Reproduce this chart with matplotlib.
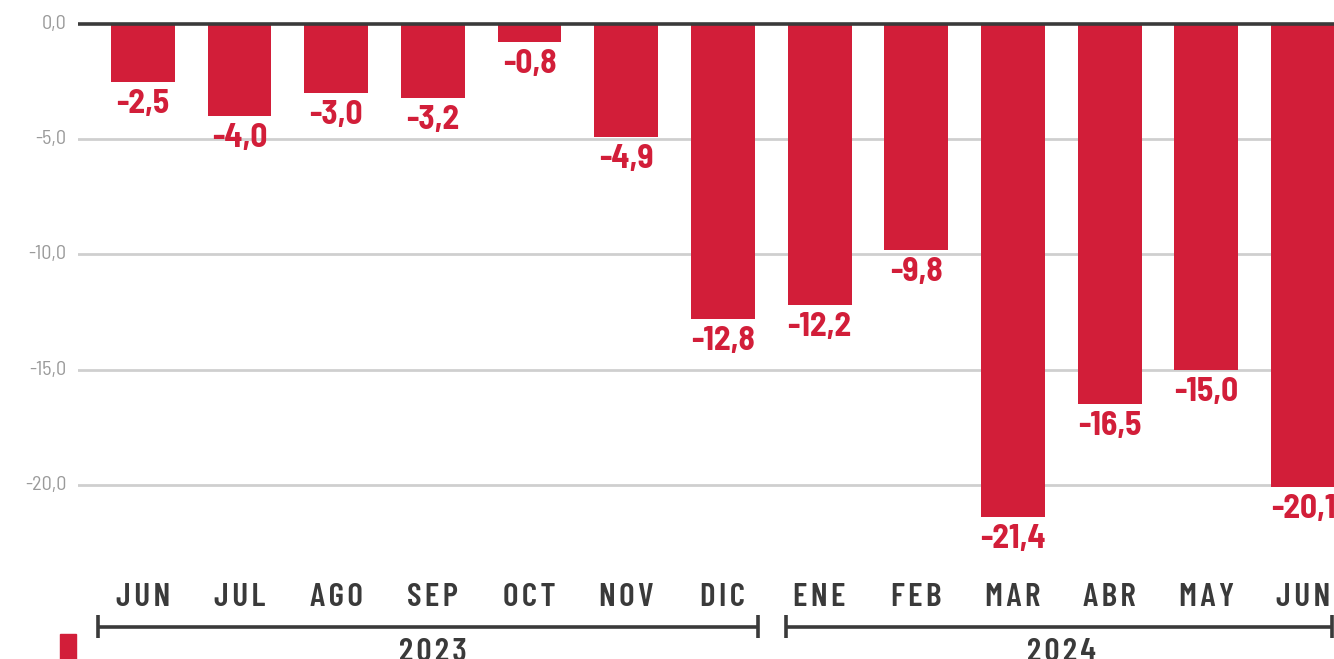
import numpy as np
import matplotlib.pyplot as plt
from matplotlib.patches import Rectangle

# Data
months = ['JUN', 'JUL', 'AGO', 'SEP', 'OCT', 'NOV', 'DIC',
          'ENE', 'FEB', 'MAR', 'ABR', 'MAY', 'JUN']
values = [-2.5, -4.0, -3.0, -3.2, -0.8, -4.9, -12.8,
          -12.2, -9.8, -21.4, -16.5, -15.0, -20.1]
years = ['2023', '2024']
year_spans = [(0, 6), (7, 12)]
yticks = [0, -5, -10, -15, -20]

RED = '#d21e39'
DARK = '#3a3a3a'
GRID = '#cfcfcf'
COND = ['Barlow Condensed', 'DejaVu Sans']
SEMI = ['Barlow Semi Condensed', 'DejaVu Sans']
HAIR = '\u200a'

fig = plt.figure(figsize=(13.34, 6.59), dpi=100)
ax = fig.add_axes([0.0585, 0, 0.9415, 1])

x = np.arange(len(values))
ax.bar(x, values, width=0.66, color=RED, zorder=3)

ax.set_xlim(-0.67, 12.32)
ax.set_ylim(-27.55, 1.04)

# grid and zero line
for t in yticks[1:]:
    ax.axhline(t, color=GRID, lw=2, zorder=1)
ax.axhline(0, color=DARK, lw=2.6, zorder=4)

for s in ax.spines.values():
    s.set_visible(False)
ax.set_xticks([])
ax.set_yticks([])

# y labels
for t in yticks:
    ax.text(-0.79, t, f'{t:.1f}'.replace('.', ','),
            ha='right', va='center', fontsize=14.5, color='#9a9a9a',
            family=SEMI)

# value labels
for xi, v in zip(x, values):
    ax.text(xi, v - 0.3, f'{v:.1f}'.replace('.', ','), ha='center', va='top',
            fontsize=24, fontweight='bold', color=RED, family=SEMI,
            zorder=5)

# month labels
for xi, m in zip(x, months):
    ax.text(xi, -24.9, HAIR.join(m), ha='center', va='center',
            fontsize=24, fontweight='semibold', color=DARK, family=COND)

# year brackets
ends = [(-0.465, 6.36), (6.65, 12.3)]
for (a, b), (x0, x1), yr in zip(year_spans, ends, years):
    y0 = -26.16
    ax.plot([x0, x1], [y0, y0], color=DARK, lw=2.6, clip_on=False,
            solid_capstyle='butt')
    for xe in (x0, x1):
        ax.plot([xe, xe], [y0 + 0.5, y0 - 0.5], color=DARK, lw=2.6,
                clip_on=False, solid_capstyle='butt')
    ax.text((a + b) / 2, -27.25, HAIR.join(yr), ha='center', va='center',
            fontsize=24, fontweight='semibold', color=DARK, family=COND)

# cropped legend marker
fig.patches.append(Rectangle((60 / 1334, 0), 16 / 1334, 25 / 659,
                             transform=fig.transFigure, color=RED))

fig.savefig('out.png', dpi=100)
